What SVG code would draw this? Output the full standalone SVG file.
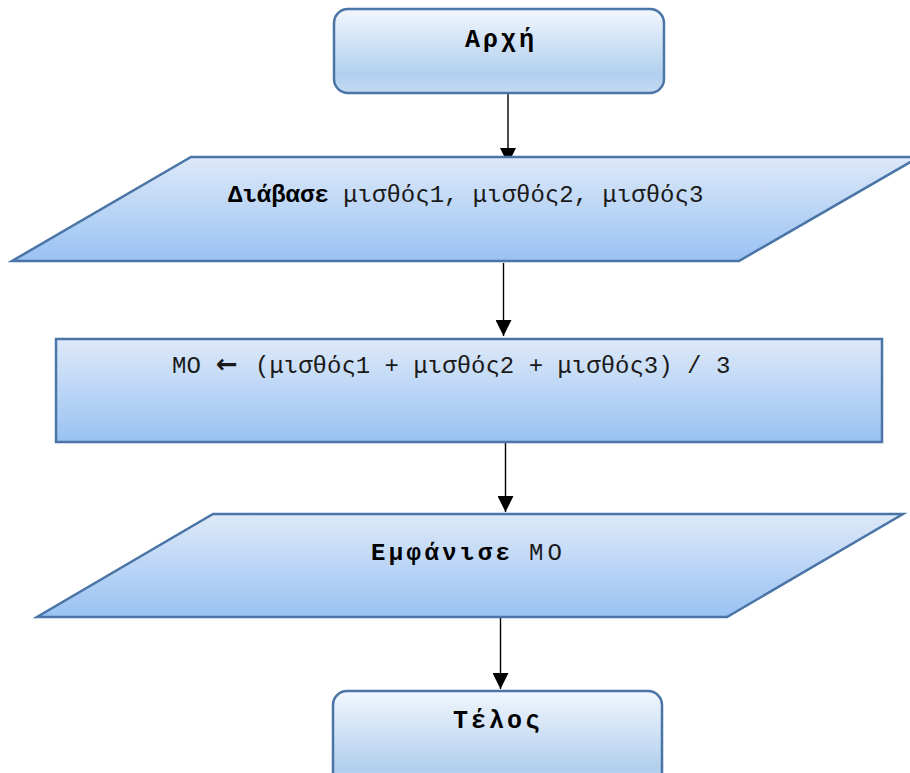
<svg xmlns="http://www.w3.org/2000/svg" width="910" height="773" viewBox="0 0 910 773">
  <defs>
    <linearGradient id="gradTerminal" x1="0" y1="0" x2="0" y2="1">
      <stop offset="0" stop-color="#f2f7fd"/>
      <stop offset="0.78" stop-color="#b1cfee"/>
      <stop offset="1" stop-color="#c4dbf2"/>
    </linearGradient>
    <linearGradient id="gradBlock" x1="0" y1="0" x2="0" y2="1">
      <stop offset="0" stop-color="#dee9f8"/>
      <stop offset="1" stop-color="#99c2f3"/>
    </linearGradient>
    <marker id="arrowHead" markerUnits="userSpaceOnUse" markerWidth="16" markerHeight="16" viewBox="0 0 16 16" refX="16" refY="8" orient="auto">
      <path d="M0,0 L16,8 L0,16 Z" fill="#000"/>
    </marker>
  </defs>
  <style>
    .terminal { fill: url(#gradTerminal); stroke: #4a75a6; stroke-width: 2.5; }
    .block { fill: url(#gradBlock); stroke: #4a75a6; stroke-width: 2.5; }
    .flow { stroke: #000; stroke-width: 1.4; fill: none; marker-end: url(#arrowHead); }
    .label { font-family: "Liberation Mono", "DejaVu Sans Mono", monospace; font-size: 24px; fill: #1a1a1a; }
    .strong { font-weight: bold; fill: #000; }
    .title { font-family: "Liberation Mono", "DejaVu Sans Mono", monospace; font-size: 25px; font-weight: bold; letter-spacing: 3px; fill: #000; }
  </style>

  <rect width="910" height="773" fill="#fff"/>

  <!-- connectors (drawn beneath the shapes) -->
  <g id="connectors">
    <line class="flow" x1="508" y1="93" x2="508" y2="164"/>
    <line class="flow" x1="503.5" y1="263" x2="503.5" y2="336"/>
    <line class="flow" x1="505.5" y1="443" x2="505.5" y2="512"/>
    <line class="flow" x1="500.5" y1="618" x2="500.5" y2="689"/>
  </g>

  <!-- start -->
  <g id="start">
    <rect class="terminal" x="334" y="9" width="330" height="84" rx="14" ry="14"/>
    <text class="title" x="465" y="47">Αρχή</text>
  </g>

  <!-- input -->
  <g id="read">
    <polygon class="block" points="191,157 919,157 739,261 12,261"/>
    <text class="label" x="228" y="202"><tspan class="strong">Διάβασε</tspan> μισθός1, μισθός2, μισθός3</text>
  </g>

  <!-- assignment -->
  <g id="average">
    <rect class="block" x="56" y="339" width="826" height="103"/>
    <text class="label" y="373"><tspan x="172">MO</tspan><tspan x="216" font-family="DejaVu Sans, sans-serif" font-weight="bold" font-size="26">←</tspan><tspan x="255">(μισθός1 + μισθός2 + μισθός3) / 3</tspan></text>
  </g>

  <!-- output -->
  <g id="show">
    <polygon class="block" points="213,514 903,514 727,617 37,617"/>
    <text class="label" y="560"><tspan x="371" class="strong" letter-spacing="3.4">Εμφάνισε</tspan><tspan x="529" letter-spacing="4">ΜΟ</tspan></text>
  </g>

  <!-- end -->
  <g id="end">
    <rect class="terminal" x="333" y="691" width="329" height="100" rx="14" ry="14"/>
    <text class="title" x="453" y="728" letter-spacing="3.6">Τέλος</text>
  </g>
</svg>
